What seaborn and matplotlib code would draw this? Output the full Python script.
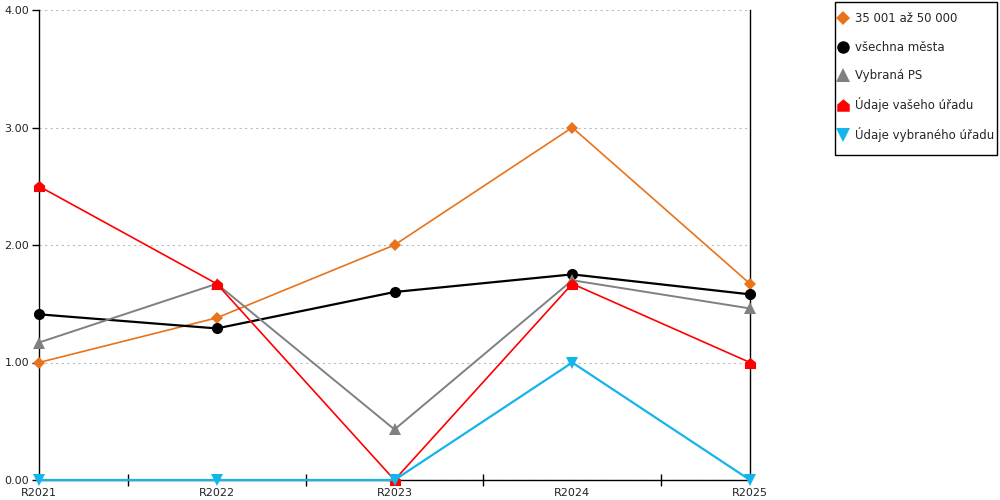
import matplotlib
matplotlib.use("Agg")
import matplotlib.pyplot as plt
from matplotlib.lines import Line2D
from matplotlib.patches import Rectangle
from matplotlib.ticker import FixedLocator
import seaborn as sns
import pandas as pd

categories = ["R2021", "R2022", "R2023", "R2024", "R2025"]
s_35001 = [1.00, 1.38, 2.00, 3.00, 1.67]
s_vsechna = [1.41, 1.29, 1.60, 1.75, 1.58]
s_vybrana_ps = [1.17, 1.67, 0.43, 1.70, 1.46]
s_vas_urad = [2.50, 1.67, 0.00, 1.67, 1.00]
s_vybrany_urad = [0.00, 0.00, 0.00, 1.00, 0.00]

names = ["35 001 až 50 000", "všechna města", "Vybraná PS",
         "Údaje vašeho úřadu", "Údaje vybraného úřadu"]
values = [s_35001, s_vsechna, s_vybrana_ps, s_vas_urad, s_vybrany_urad]

house = [(-1, -1), (1, -1), (1, 0.15), (0, 1), (-1, 0.15), (-1, -1)]
styles = [
    dict(color="#E8731A", marker="D", ms=6, lw=1.2),
    dict(color="#000000", marker="o", ms=8, lw=1.6),
    dict(color="#808080", marker="^", ms=8.5, lw=1.4),
    dict(color="#FF0000", marker=house, ms=8, lw=1.2),
    dict(color="#13B5EA", marker="v", ms=8.5, lw=1.6),
]

sns.set_style("white")
plt.rcParams["font.family"] = ["DejaVu Sans"]

fig = plt.figure(figsize=(10, 5), dpi=100)
ax = fig.add_axes([0.039, 0.04, 0.711, 0.94])

for name, vals, st in zip(names, values, styles):
    df = pd.DataFrame({"x": categories, "y": vals})
    sns.lineplot(data=df, x="x", y="y", ax=ax, color=st["color"], marker=st["marker"],
                 markersize=st["ms"], linewidth=st["lw"], markeredgewidth=0,
                 label=name, legend=False, clip_on=False, zorder=3)

ax.set_xlim(0, 4)
ax.set_ylim(0, 4)
ax.set_xlabel("")
ax.set_ylabel("")
ax.set_yticks([0, 1, 2, 3, 4])
ax.set_yticklabels(["0.00", "1.00", "2.00", "3.00", "4.00"])
ax.yaxis.grid(True, linestyle=(0, (2, 3)), color="#BBBBBB", linewidth=0.8)
ax.xaxis.grid(False)
ax.set_axisbelow(True)

ax.tick_params(axis="x", which="major", length=0, pad=5.5, labelsize=8, labelcolor="#222222",
               bottom=True)
ax.xaxis.set_minor_locator(FixedLocator([0.5, 1.5, 2.5, 3.5]))
ax.tick_params(axis="x", which="minor", direction="inout", length=9, width=1, color="black",
               bottom=True)
ax.tick_params(axis="y", which="major", length=5, width=1, color="black", direction="out",
               pad=2, labelsize=8, labelcolor="#222222", left=True)

for side in ["left", "right", "bottom"]:
    ax.spines[side].set_visible(True)
    ax.spines[side].set_color("black")
    ax.spines[side].set_linewidth(1)
ax.spines["top"].set_visible(False)

# legend frame
fig.patches.append(Rectangle((0.835, 0.69), 0.162, 0.306, transform=fig.transFigure,
                             fill=False, edgecolor="black", linewidth=1))
handles = [Line2D([], [], linestyle="none", color=st["color"], marker=st["marker"],
                  markersize=st["ms"] + 1, markeredgewidth=0) for st in styles]
leg = fig.legend(handles, names, loc="upper left", bbox_to_anchor=(0.8395, 0.975),
                 frameon=False, fontsize=8.5,
                 handlelength=0.6, handletextpad=0.7, labelspacing=1.29,
                 borderpad=0, borderaxespad=0)

fig.savefig("out.png", dpi=100)
